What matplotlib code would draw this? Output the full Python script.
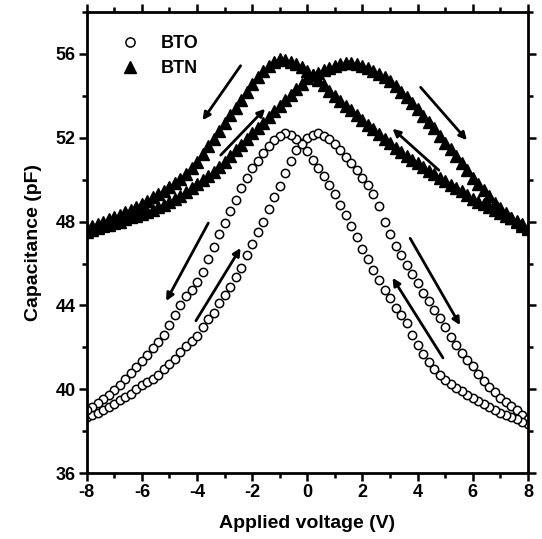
#!/usr/bin/env python3
import matplotlib
matplotlib.use("Agg")
import matplotlib.pyplot as plt
import numpy as np
from matplotlib.ticker import MultipleLocator

# BTO, forward sweep (-8 V -> +8 V)
bto_up_v = [-8.0, -7.8, -7.6, -7.4, -7.2, -7.0, -6.8, -6.6, -6.4, -6.2, -6.0, -5.8, -5.6, -5.4,
            -5.2, -5.0, -4.8, -4.6, -4.4, -4.2, -4.0, -3.8, -3.6, -3.4, -3.2, -3.0, -2.8, -2.6,
            -2.4, -2.2, -2.0, -1.8, -1.6, -1.4, -1.2, -1.0, -0.8, -0.6, -0.4, -0.2, 0.0, 0.2,
            0.4, 0.6, 0.8, 1.0, 1.2, 1.4, 1.6, 1.8, 2.0, 2.2, 2.4, 2.6, 2.8, 3.0, 3.2, 3.4,
            3.6, 3.8, 4.0, 4.2, 4.4, 4.6, 4.8, 5.0, 5.2, 5.4, 5.6, 5.8, 6.0, 6.2, 6.4, 6.6,
            6.8, 7.0, 7.2, 7.4, 7.6, 7.8, 8.0]
bto_up_c = [38.7, 38.76, 38.88, 39.0, 39.15, 39.3, 39.47, 39.62, 39.8, 40.0, 40.2, 40.35, 40.5, 40.7,
            40.95, 41.2, 41.45, 41.8, 42.05, 42.3, 42.55, 42.95, 43.35, 43.65, 44.1, 44.5, 44.9, 45.35,
            45.8, 46.4, 46.95, 47.5, 48.0, 48.6, 49.15, 49.7, 50.3, 50.9, 51.4, 51.75, 52.0, 52.15,
            52.2, 52.1, 51.95, 51.7, 51.4, 51.1, 50.8, 50.45, 50.1, 49.75, 49.3, 48.75, 48.0, 47.4,
            46.85, 46.4, 45.95, 45.5, 45.05, 44.6, 44.2, 43.8, 43.4, 42.95, 42.5, 42.1, 41.75, 41.4,
            41.1, 40.75, 40.4, 40.1, 39.85, 39.6, 39.4, 39.2, 39.0, 38.8, 38.6]

# BTO, reverse sweep (+8 V -> -8 V)
bto_dn_v = [8.0, 7.8, 7.6, 7.4, 7.2, 7.0, 6.8, 6.6, 6.4, 6.2, 6.0, 5.8, 5.6, 5.4, 5.2, 5.0, 4.8,
            4.6, 4.4, 4.2, 4.0, 3.8, 3.6, 3.4, 3.2, 3.0, 2.8, 2.6, 2.4, 2.2, 2.0, 1.8, 1.6, 1.4,
            1.2, 1.0, 0.8, 0.6, 0.4, 0.2, 0.0, -0.2, -0.4, -0.6, -0.8, -1.0, -1.2, -1.4, -1.6,
            -1.8, -2.0, -2.2, -2.4, -2.6, -2.8, -3.0, -3.2, -3.4, -3.6, -3.8, -4.0, -4.2, -4.4,
            -4.6, -4.8, -5.0, -5.2, -5.4, -5.6, -5.8, -6.0, -6.2, -6.4, -6.6, -6.8, -7.0, -7.2,
            -7.4, -7.6, -7.8, -8.0]
bto_dn_c = [38.35, 38.45, 38.6, 38.7, 38.8, 38.88, 39.0, 39.15, 39.3, 39.45, 39.6, 39.75, 39.9,
            40.05, 40.25, 40.45, 40.7, 40.95, 41.3, 41.7, 42.1, 42.6, 43.15, 43.55, 43.9, 44.35,
            44.75, 45.2, 45.7, 46.2, 46.7, 47.25, 47.8, 48.3, 48.8, 49.3, 49.75, 50.15, 50.55,
            50.95, 51.35, 51.7, 51.95, 52.15, 52.2, 52.1, 51.9, 51.6, 51.25, 50.9, 50.55, 50.1,
            49.6, 49.05, 48.5, 47.95, 47.4, 46.8, 46.2, 45.6, 45.1, 44.75, 44.45, 44.0, 43.55,
            43.05, 42.6, 42.25, 41.95, 41.65, 41.35, 41.05, 40.8, 40.5, 40.2, 39.95, 39.75,
            39.55, 39.35, 39.15, 39.0]

# BTN, forward sweep (-8 V -> +8 V)
btn_up_v = bto_up_v
btn_up_c = [47.5, 47.6, 47.7, 47.78, 47.85, 47.92, 48.0, 48.1, 48.2, 48.28, 48.37, 48.46, 48.56,
            48.68, 48.8, 48.92, 49.06, 49.22, 49.4, 49.6, 49.8, 49.98, 50.18, 50.38, 50.6, 50.86,
            51.12, 51.4, 51.66, 51.93, 52.2, 52.46, 52.72, 52.98, 53.25, 53.52, 53.78, 54.05,
            54.3, 54.58, 54.85, 55.0, 55.1, 55.22, 55.32, 55.42, 55.5, 55.55, 55.55, 55.5, 55.42,
            55.32, 55.2, 55.05, 54.9, 54.7, 54.45, 54.2, 53.95, 53.65, 53.35, 53.05, 52.75, 52.45,
            52.08, 51.75, 51.45, 51.12, 50.8, 50.45, 50.1, 49.8, 49.5, 49.2, 48.9, 48.65, 48.4,
            48.18, 47.98, 47.8, 47.65]

# BTN, reverse sweep (+8 V -> -8 V)
btn_dn_v = bto_dn_v
btn_dn_c = [47.7, 47.88, 48.02, 48.15, 48.28, 48.42, 48.55, 48.68, 48.82, 48.95, 49.1, 49.28,
            49.45, 49.6, 49.76, 49.92, 50.08, 50.25, 50.42, 50.6, 50.78, 50.96, 51.14, 51.33,
            51.53, 51.74, 51.95, 52.17, 52.4, 52.62, 52.85, 53.08, 53.3, 53.52, 53.75, 54.0,
            54.25, 54.5, 54.75, 55.0, 55.2, 55.35, 55.5, 55.62, 55.72, 55.73, 55.6, 55.42, 55.18,
            54.88, 54.55, 54.18, 53.8, 53.43, 53.06, 52.7, 52.33, 51.96, 51.6, 51.23, 50.85,
            50.55, 50.28, 50.05, 49.85, 49.66, 49.48, 49.3, 49.15, 48.98, 48.82, 48.7, 48.57,
            48.44, 48.32, 48.2, 48.1, 48.0, 47.9, 47.8, 47.7]

# sweep direction arrows: (tail_v, tail_c, head_v, head_c)
arrows = [(-2.42, 55.43, -3.8, 52.83),
          (-3.14, 51.17, -1.53, 53.38),
          (4.11, 54.4, 5.79, 51.88),
          (4.77, 50.45, 3.09, 52.43),
          (-3.59, 47.93, -5.12, 44.21),
          (-4.04, 43.27, -2.42, 46.74),
          (3.73, 47.2, 5.54, 43.06),
          (4.92, 41.5, 3.09, 45.32)]


def main():
    plt.rcParams['font.family'] = ['Liberation Sans', 'DejaVu Sans']
    plt.rcParams['font.weight'] = 'bold'
    plt.rcParams['axes.unicode_minus'] = False

    fig = plt.figure(figsize=(5.42, 5.39), dpi=100)
    ax = fig.add_axes([0.16, 0.122, 0.814, 0.856])

    ax.plot(btn_up_v, btn_up_c, ls='none', marker='^', ms=8, color='black', label='BTN')
    ax.plot(btn_dn_v, btn_dn_c, ls='none', marker='^', ms=8, color='black')
    ax.plot(bto_up_v, bto_up_c, ls='none', marker='o', ms=6, mfc='white', mec='black',
            mew=1.1, label='BTO')
    ax.plot(bto_dn_v, bto_dn_c, ls='none', marker='o', ms=6, mfc='white', mec='black', mew=1.1)

    for tv, tc, hv, hc in arrows:
        ax.annotate('', xy=(hv, hc), xytext=(tv, tc),
                    arrowprops=dict(arrowstyle='-|>', lw=2, color='black', mutation_scale=11,
                                    shrinkA=0, shrinkB=0))

    ax.set_xlim(-8, 8)
    ax.set_ylim(36, 58)
    ax.xaxis.set_major_locator(MultipleLocator(2))
    ax.xaxis.set_minor_locator(MultipleLocator(1))
    ax.yaxis.set_major_locator(MultipleLocator(4))
    ax.yaxis.set_minor_locator(MultipleLocator(2))
    ax.tick_params(which='both', direction='out', top=True, right=True, width=1.8)
    ax.tick_params(which='major', length=6, labelsize=13, pad=2)
    ax.tick_params(which='minor', length=3.5)
    for lab in ax.get_xticklabels() + ax.get_yticklabels():
        lab.set_fontweight('bold')
    for s in ax.spines.values():
        s.set_linewidth(2)

    ax.set_xlabel('Applied voltage (V)', fontsize=14, fontweight='bold', labelpad=10)
    ax.set_ylabel('Capacitance (pF)', fontsize=14, fontweight='bold', labelpad=10)

    handles, labels = ax.get_legend_handles_labels()
    ax.legend(handles[::-1], labels[::-1], loc='upper left', bbox_to_anchor=(0.04, 0.985),
              frameon=False, handlelength=1.0, handletextpad=1.2, labelspacing=0.45,
              markerscale=1.1, prop=dict(size=13, weight='bold'))

    fig.savefig('out.png', dpi=100)


if __name__ == "__main__":
    main()
